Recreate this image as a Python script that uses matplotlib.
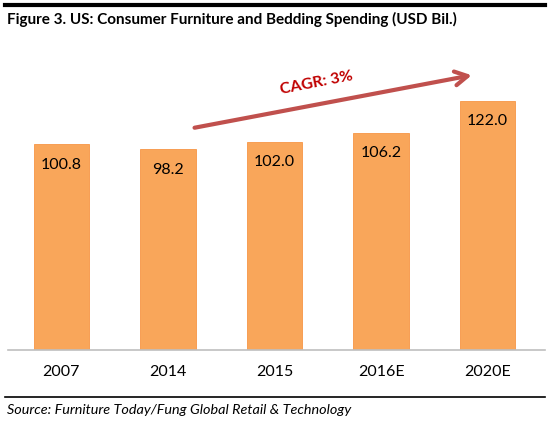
import matplotlib
matplotlib.use("Agg")
import matplotlib.pyplot as plt
from matplotlib.lines import Line2D

categories = ["2007", "2014", "2015", "2016E", "2020E"]
values = [100.8, 98.2, 102.0, 106.2, 122.0]
title = "Figure 3. US: Consumer Furniture and Bedding Spending (USD Bil.)"
source = "Source: Furniture Today/Fung Global Retail & Technology"
cagr_label = "CAGR: 3%"

plt.rcParams['font.family'] = ['Lato', 'DejaVu Sans']

W, H = 550, 425
fig = plt.figure(figsize=(W / 100, H / 100), dpi=100)

def fx(px):
    return px / W

def fy(py):
    return 1 - py / H

ax = fig.add_axes([fx(8), fy(350), fx(541) - fx(8), (350 - 64) / H])
x = range(len(categories))
ax.bar(x, values, width=0.52, color="#F9A65A", edgecolor="#F79646", linewidth=0.6, zorder=2)
for xi, v in zip(x, values):
    ax.text(xi, v - 10, f"{v:.1f}", ha="center", va="center", fontsize=11.5, color="black")
ax.set_xlim(-0.5, 4.5)
ax.set_ylim(0, 140)
ax.set_xticks(list(x))
ax.set_xticklabels(categories, fontsize=11.5)
ax.tick_params(axis="x", length=0, pad=11)
ax.set_yticks([])
for s in ["top", "right", "left"]:
    ax.spines[s].set_visible(False)
ax.spines["bottom"].set_visible(False)
fig.add_artist(Line2D([fx(8), fx(545)], [fy(350), fy(350)], color="#BFBFBF", lw=1.2))

# CAGR arrow
ax.annotate("", xy=(3.85, 134.5), xytext=(1.25, 108.8),
            arrowprops=dict(arrowstyle="->,head_length=0.9,head_width=0.5",
                            color="#C0504D", lw=3, shrinkA=0, shrinkB=0))
ax.text(2.39, 130.5, cagr_label, rotation=11, color="#C00000", fontsize=11.5,
        fontweight="bold", ha="center", va="center")

# frame lines
fig.add_artist(Line2D([fx(5), fx(545)], [fy(5), fy(5)], color="black", lw=3))
fig.add_artist(Line2D([fx(5), fx(545)], [fy(397), fy(397)], color="black", lw=1.2))
fig.text(fx(7), fy(19), title, fontsize=11, fontweight="bold", ha="left", va="center")
fig.text(fx(7), fy(410), source, fontsize=10.4, style="italic", ha="left", va="center")

fig.savefig("out.png", dpi=100)
